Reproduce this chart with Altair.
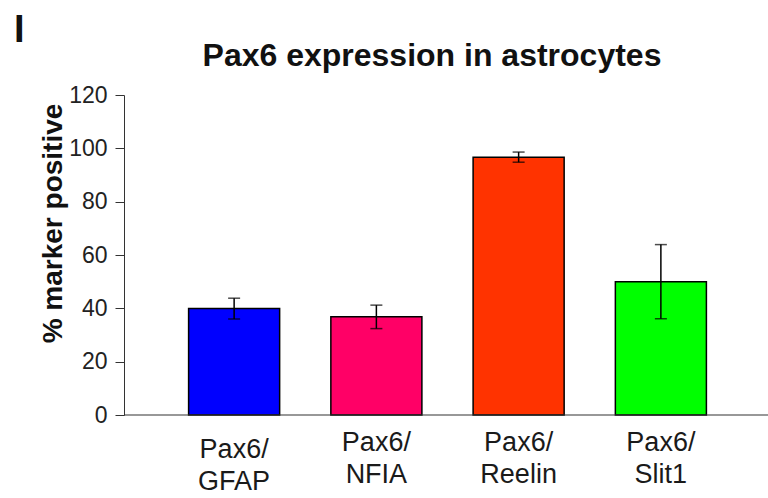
import altair as alt
import pandas as pd

# Bar categories, means and error half-widths (% marker positive)
categories = ["Pax6/GFAP", "Pax6/NFIA", "Pax6/Reelin", "Pax6/Slit1"]
means = [39.9, 36.8, 96.7, 50.0]
errors = [3.9, 4.4, 1.9, 13.9]
colors = ["#0000FF", "#FF0066", "#FF3300", "#00FF00"]
y_ticks = [0, 20, 40, 60, 80, 100, 120]

chart_title = "Pax6 expression in astrocytes"
panel_label = "I"

FONT = "Liberation Sans, Arial, Helvetica, sans-serif"

df = pd.DataFrame({
    "cat": categories,
    "mean": means,
    "lo": [m - e for m, e in zip(means, errors)],
    "hi": [m + e for m, e in zip(means, errors)],
})

x_enc = alt.X(
    "cat:N",
    sort=categories,
    scale=alt.Scale(range=[39, 608], paddingInner=0.36, paddingOuter=0.18),
    axis=alt.Axis(
        title=None,
        labelAngle=0,
        labelFontSize=27,
        labelFont=FONT,
        labelColor="#1a1a1a",
        labelLineHeight=32,
        labelPadding=alt.expr("datum.value == 'Pax6/GFAP' ? 21 : 14"),
        labelExpr="[split(datum.label, '/')[0] + '/', split(datum.label, '/')[1]]",
        ticks=False,
        domain=False,
    ),
)

y_scale = alt.Scale(domain=[0, 120], nice=False)
y_axis = alt.Axis(
    values=y_ticks,
    title="% marker positive",
    titleFont=FONT,
    titleFontSize=28,
    titleFontWeight="bold",
    titleColor="#111",
    titleX=-71,
    titleY=128,
    titleAlign="center",
    titleBaseline="middle",
    titleAngle=270,
    labelFont=FONT,
    labelFontSize=23,
    labelColor="#222",
    labelPadding=8,
    tickSize=9,
    tickColor="#333",
    domainColor="#333",
    grid=False,
)

base = alt.Chart(df)

bars = base.mark_bar(stroke="black", strokeWidth=1.5).encode(
    x=x_enc,
    y=alt.Y("mean:Q", scale=y_scale, axis=y_axis),
    color=alt.Color("cat:N", scale=alt.Scale(domain=categories, range=colors), legend=None),
)

whisker = base.mark_rule(color="black", strokeWidth=1.5).encode(
    x=alt.X("cat:N", sort=categories),
    y="lo:Q",
    y2="hi:Q",
)

cap_hi = base.mark_tick(color="black", size=12, thickness=1.5).encode(
    x=alt.X("cat:N", sort=categories), y="hi:Q"
)
cap_lo = base.mark_tick(color="black", size=12, thickness=1.5).encode(
    x=alt.X("cat:N", sort=categories), y="lo:Q"
)

# Category axis line drawn across the full plot width
baseline = alt.Chart(pd.DataFrame({"v": [0]})).mark_rule(
    color="#333", strokeWidth=1.2
).encode(y=alt.Y("v:Q", scale=y_scale))

# Heading and panel letter, placed above the plot area
heading = alt.Chart(pd.DataFrame({"t": [chart_title]})).mark_text(
    font=FONT, fontSize=32, fontWeight="bold", align="center", baseline="alphabetic", color="#111"
).encode(text="t:N", x=alt.value(308), y=alt.value(-29))

panel_letter = alt.Chart(pd.DataFrame({"t": [panel_label]})).mark_text(
    font=FONT, fontSize=38, fontWeight="bold", align="left", baseline="alphabetic", color="#111"
).encode(text="t:N", x=alt.value(-110), y=alt.value(-53))

chart = alt.layer(bars, whisker, cap_hi, cap_lo, baseline, heading, panel_letter).properties(
    width=644,
    height=320,
    background="white",
    autosize=alt.AutoSizeParams(type="none"),
    padding={"left": 124, "top": 95, "right": 0, "bottom": 83},
).configure_view(strokeWidth=0, stroke="transparent")

chart.save("out.html", embed_options={"renderer": "svg", "actions": False})
